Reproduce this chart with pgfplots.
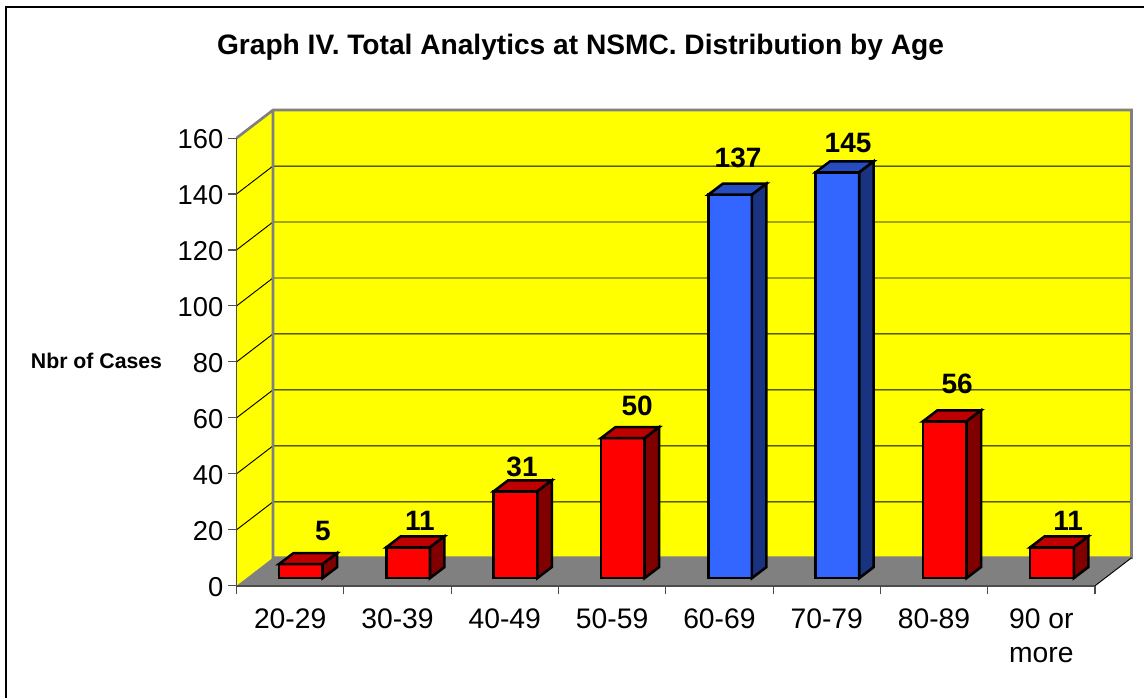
\documentclass[border=0pt]{standalone}
\usepackage{fontspec}
\setmainfont{Liberation Sans}
\usepackage{pgfplots}
\pgfplotsset{compat=1.18}
\definecolor{wallgray}{HTML}{808080}
\definecolor{wallyellow}{HTML}{FFFF00}
\definecolor{barred}{HTML}{FF0000}
\definecolor{barredtop}{HTML}{BF0000}
\definecolor{barredside}{HTML}{800000}
\definecolor{barblue}{HTML}{3366FF}
\definecolor{barbluetop}{HTML}{264CBF}
\definecolor{barblueside}{HTML}{1A3380}
% category index, value, colour prefix
\newcommand{\threedbar}[3]{%
  \pgfmathsetmacro{\xa}{#1+0.396}%
  \pgfmathsetmacro{\xb}{#1+0.803}%
  \pgfmathsetmacro{\xc}{#1+0.938}%
  \pgfmathsetmacro{\xd}{#1+0.531}%
  \pgfmathsetmacro{\ya}{#2+2.75}%
  \pgfmathsetmacro{\yb}{#2+6.68}%
  \addplot[fill=#3,draw=black,line width=1.9pt] coordinates {(\xa,2.75) (\xb,2.75) (\xb,\ya) (\xa,\ya)} -- cycle;
  \addplot[fill=#3top,draw=black,line width=1.9pt] coordinates {(\xa,\ya) (\xb,\ya) (\xc,\yb) (\xd,\yb)} -- cycle;
  \addplot[fill=#3side,draw=black,line width=1.9pt] coordinates {(\xb,2.75) (\xc,6.68) (\xc,\yb) (\xb,\ya)} -- cycle;
}
\newcommand{\gridrow}[1]{%
  \pgfmathsetmacro{\yg}{#1+10}%
  \addplot[black,line width=0.7pt] coordinates {(0,#1) (0.34,\yg) (8.34,\yg)};
}
\begin{document}
\begin{tikzpicture}
\useasboundingbox (-177.375pt,-84.75pt) rectangle (680.625pt,438.75pt);
\draw[black,line width=1.5pt] (-172.65pt,-84.75pt) -- (-172.65pt,433.3pt) -- (680.625pt,433.3pt);
\node[anchor=base,font=\bfseries\fontsize{21.1}{25}\selectfont] at (258pt,397.5pt) {Graph IV. Total Analytics at NSMC. Distribution by Age};
\node[anchor=base,font=\bfseries\fontsize{15.95}{19}\selectfont] at (-105pt,162.5pt) {Nbr of Cases};
\begin{axis}[
  yshift=-0.6pt,
  scale only axis, width=643.875pt, height=335.8pt,
  xmin=0, xmax=8, ymin=0, ymax=160,
  clip=false, axis on top=true,
  axis x line*=bottom, axis y line*=left,
  axis line style={black!70,line width=1.1pt},
  tick align=outside, major tick length=6.4pt, minor tick length=6.4pt,
  ytick={0,20,...,160},
  xtick={0.5,1.5,2.5,3.5,4.5,5.5,6.5,7.5},
  minor xtick={0,1,...,8},
  major x tick style={draw=none},
  minor x tick style={black!70,line width=0.8pt},
  major y tick style={black!70,line width=0.8pt},
  xticklabels={20-29,30-39,40-49,50-59,60-69,70-79,80-89,{90 or\\more}},
  xticklabel style={align=center,font=\fontsize{21.2}{25.9}\selectfont,yshift=-7.2pt},
  yticklabel style={font=\fontsize{20.5}{24}\selectfont,yshift=-1pt},
  /pgf/number format/assume math mode=true,
]
% walls and floor
\addplot[fill=wallyellow,draw=none] coordinates {(0,0) (0,160) (0.34,170) (0.34,10)} -- cycle;
\addplot[fill=wallyellow,draw=none] coordinates {(0.34,10) (8.34,10) (8.34,170) (0.34,170)} -- cycle;
\addplot[fill=wallgray,draw=none] coordinates {(0,0) (8,0) (8.34,10) (0.34,10)} -- cycle;
\gridrow{20}\gridrow{40}\gridrow{60}\gridrow{80}\gridrow{100}\gridrow{120}\gridrow{140}
\addplot[wallgray,line width=2pt] coordinates {(0,160) (0.34,170) (8.34,170) (8.34,10) (0.34,10) (0.34,170)};
\addplot[black,line width=0.7pt] coordinates {(8,0) (8.34,10)};
% bars
\threedbar{0}{5}{barred}
\threedbar{1}{11}{barred}
\threedbar{2}{31}{barred}
\threedbar{3}{50}{barred}
\threedbar{4}{137}{barblue}
\threedbar{5}{145}{barblue}
\threedbar{6}{56}{barred}
\threedbar{7}{11}{barred}
% value labels
\begin{scope}[every node/.style={anchor=base,font=\bfseries\fontsize{21}{25}\selectfont,inner sep=0pt}]
\node at (axis cs:0.806,16.08) {5};
\node at (axis cs:1.710,19.66) {11};
\node at (axis cs:2.661,38.96) {31};
\node at (axis cs:3.733,60.76) {50};
\node at (axis cs:4.674,149.4) {137};
\node at (axis cs:5.699,154.8) {145};
\node at (axis cs:6.715,68.6) {56};
\node at (axis cs:7.749,19.8) {11};
\end{scope}
\end{axis}
\end{tikzpicture}
\end{document}
